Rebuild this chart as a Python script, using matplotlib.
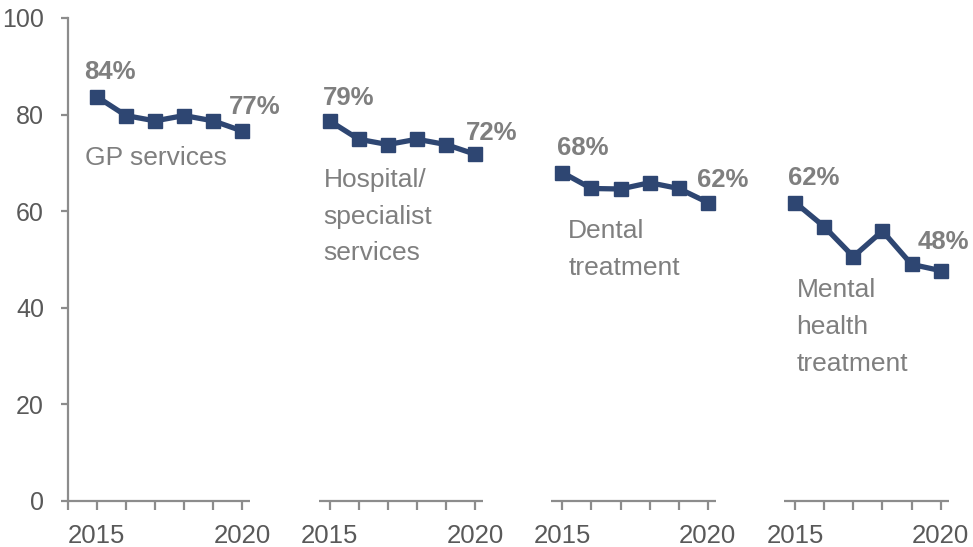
import matplotlib
matplotlib.use('Agg')
import matplotlib.pyplot as plt

plt.rcParams['font.family'] = ['Liberation Sans', 'DejaVu Sans']

years = [2015, 2016, 2017, 2018, 2019, 2020]
services = ['GP services', 'Hospital/\nspecialist\nservices', 'Dental\ntreatment',
            'Mental\nhealth\ntreatment']
gp = [83.7, 79.8, 78.7, 79.8, 78.7, 76.6]
hospital = [78.7, 74.9, 73.8, 74.9, 73.8, 71.8]
dental = [68.0, 64.7, 64.6, 65.9, 64.7, 61.8]
mental = [61.8, 56.8, 50.6, 55.9, 49.0, 47.7]
series = [gp, hospital, dental, mental]

# розміщення підписів (зсуви відносно точок)
name_pos = [(-0.4, 71), (-0.2, 58.9), (0.2, 52), (0.05, 36.1)]
first_off = [(-0.42, 5.2), (-0.22, 4.7), (-0.18, 5.1), (-0.25, 5.1)]
last_off = [(0.42, 5.0), (0.58, 4.4), (0.52, 4.6), (0.08, 6.0)]

LINE = '#2e4672'
GREY = '#7f7f7f'
AXIS = '#8c8c8c'
GAP = 8  # відстань між групами на осі x

fig = plt.figure(figsize=(9.73, 5.47), dpi=100)
ax = fig.add_axes([0.0696, 0.0841, 0.930, 0.883])

xticks, xlabels = [-1], ['']
for i, (vals, name) in enumerate(zip(series, services)):
    off = i * GAP
    xs = [off + (y - years[0]) for y in years]
    ax.plot(xs, vals, color=LINE, lw=3.8, marker='s', ms=9.5, clip_on=False, zorder=3)
    dx, dy = first_off[i]
    ax.text(xs[0] + dx, vals[0] + dy, f'{vals[0]:.0f}%', color=GREY,
            fontsize=18.5, fontweight='bold', ha='left', va='center')
    dx, dy = last_off[i]
    ax.text(xs[-1] + dx, vals[-1] + dy, f'{vals[-1]:.0f}%', color=GREY,
            fontsize=18.5, fontweight='bold', ha='center', va='center')
    nx, ny = name_pos[i]
    ax.text(off + nx, ny, name, color=GREY, fontsize=19, ha='left', va='center',
            linespacing=1.68)
    start = -1 if i == 0 else off - 0.38
    ax.hlines(0, start, off + 5.28, color=AXIS, lw=1.6, clip_on=False, zorder=2)
    for x, y in zip(xs, years):
        xticks.append(x)
        xlabels.append(str(y) if y in (years[0], years[-1]) else '')

ax.set_xlim(-1, 30.1)
ax.set_ylim(0, 100)
ax.set_yticks(range(0, 101, 20))
ax.set_xticks(xticks)
ax.set_xticklabels(xlabels)

for s in ['top', 'right', 'bottom']:
    ax.spines[s].set_visible(False)
ax.spines['left'].set_color(AXIS)
ax.spines['left'].set_linewidth(1.6)
ax.tick_params(axis='y', direction='out', length=5, width=1.6, color=AXIS,
               labelcolor='#595959', labelsize=18, pad=12)
ax.tick_params(axis='x', direction='out', length=6.5, width=1.6, color=AXIS,
               labelcolor='#595959', labelsize=18.5, pad=10)

fig.savefig('out.png', dpi=100)
